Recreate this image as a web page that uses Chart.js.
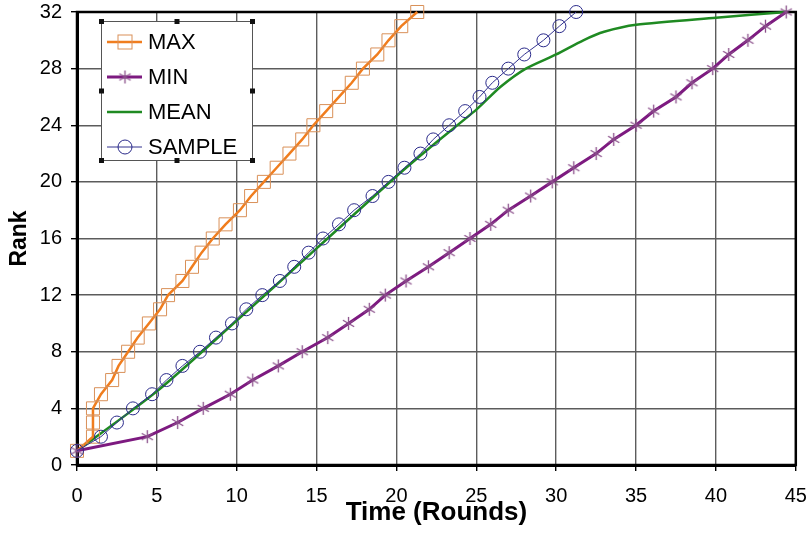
<!DOCTYPE html>
<html>
<head>
<meta charset="utf-8">
<script src="https://cdn.jsdelivr.net/npm/chart.js@4.4.1/dist/chart.umd.min.js"></script>
<style>
  body { margin: 0; background: #fff; }
  #wrap { width: 806px; height: 535px; }
</style>
</head>
<body>
<div id="wrap"><canvas id="myChart" width="806" height="535"></canvas></div>
<script>
// rank 1..32, time (rounds) at which each rank was reached
const ranks = [1, 2, 3, 4, 5, 6, 7, 8, 9, 10, 11, 12, 13, 14, 15, 16,
  17, 18, 19, 20, 21, 22, 23, 24, 25, 26, 27, 28, 29, 30, 31, 32];
const maxTime = [0, 1, 1, 1, 1.5, 2.2, 2.6, 3.2, 3.8, 4.5, 5.2, 5.7, 6.6, 7.2, 7.8, 8.5,
  9.3, 10.2, 10.9, 11.7, 12.5, 13.3, 14.1, 14.8, 15.6, 16.4, 17.2, 17.9, 18.8, 19.5, 20.3, 21.3];
const minTime = [0, 4.4, 6.3, 7.9, 9.6, 11.0, 12.6, 14.1, 15.7, 17.0, 18.3, 19.3, 20.6, 22.0, 23.3, 24.6,
  25.9, 27.0, 28.4, 29.75, 31.1, 32.5, 33.6, 35.0, 36.1, 37.5, 38.5, 39.8, 40.8, 42.0, 43.1, 44.4];
const sampleTime = [0, 1.5, 2.5, 3.5, 4.7, 5.6, 6.6, 7.7, 8.7, 9.7, 10.6, 11.6, 12.7, 13.6, 14.5, 15.4,
  16.4, 17.35, 18.5, 19.5, 20.5, 21.5, 22.3, 23.3, 24.3, 25.2, 26.0, 27.0, 28.0, 29.2, 30.2, 31.25];
// mean curve has no markers
const meanTime = [0, 5, 10, 15, 20, 22.5, 25, 26.5, 28.1, 30, 31.7, 33, 35, 40, 44.4];
const meanRank = [1, 5.2, 10.2, 15.3, 20.4, 22.8, 25.1, 26.7, 28, 29.0, 30, 30.6, 31.1, 31.6, 32];

const xTicks = [0, 5, 10, 15, 20, 25, 30, 35, 40, 45];
const yTicks = [0, 4, 8, 12, 16, 20, 24, 28, 32];

const FONT = "'Liberation Sans', Arial, sans-serif";

function pts(xs, ys) {
  return xs.map((x, i) => ({ x: x, y: ys[i] }));
}

// six armed asterisk used for MIN
function makeStar(size, color) {
  const c = document.createElement('canvas');
  c.width = size; c.height = size;
  const g = c.getContext('2d');
  g.strokeStyle = color;
  g.lineWidth = 1.3;
  const m = size / 2, r = size / 2 - 1;
  g.beginPath();
  [90, 30, 150].forEach(a => {
    const t = a * Math.PI / 180;
    g.moveTo(m - r * Math.cos(t), m + r * Math.sin(t));
    g.lineTo(m + r * Math.cos(t), m - r * Math.sin(t));
  });
  g.stroke();
  return c;
}
const starImg = makeStar(15, '#8a4f8a');

const series = [
  { label: 'MAX', line: '#f07d1e', width: 2.5, style: 'rect', radius: 9.2, mark: '#d99058' },
  { label: 'MIN', line: '#7d1a80', width: 3, style: starImg, radius: 7, mark: '#8a4f8a' },
  { label: 'MEAN', line: '#1f8a22', width: 2.5, style: false, radius: 0, mark: null },
  { label: 'SAMPLE', line: '#33338f', width: 1, style: 'circle', radius: 6.5, mark: '#2a2a8a' }
];

const legendBox = {
  id: 'legendBox',
  afterDatasetsDraw(chart) {
    const c = chart.ctx;
    const x0 = 101, y0 = 21, x1 = 252, y1 = 160;
    c.save();
    c.fillStyle = '#fff';
    c.fillRect(x0, y0, x1 - x0, y1 - y0);
    c.strokeStyle = '#555';
    c.lineWidth = 1;
    c.strokeRect(x0 + 0.5, y0 + 0.5, x1 - x0, y1 - y0);
    c.fillStyle = '#111';
    const mx = (x0 + x1) / 2, my = (y0 + y1) / 2;
    [[x0, y0], [mx, y0], [x1, y0], [x0, my], [x1, my], [x0, y1], [mx, y1], [x1, y1]].forEach(p => {
      c.fillRect(p[0] - 2, p[1] - 2, 5, 5);
    });
    const rows = [42, 77, 112, 147];
    series.forEach((s, i) => {
      const y = rows[i];
      c.strokeStyle = s.line;
      c.lineWidth = s.width;
      c.beginPath();
      c.moveTo(107, y);
      c.lineTo(142, y);
      c.stroke();
      c.lineWidth = 1;
      c.strokeStyle = s.mark;
      if (s.style === 'rect') {
        c.strokeRect(125 - 7, y - 7, 14, 14);
      } else if (s.style === 'circle') {
        c.beginPath();
        c.arc(125, y, 7, 0, Math.PI * 2);
        c.stroke();
      } else if (s.style) {
        c.drawImage(s.style, 125 - s.style.width / 2, y - s.style.height / 2);
      }
      c.fillStyle = '#000';
      c.font = '22px ' + FONT;
      c.textBaseline = 'middle';
      c.textAlign = 'left';
      c.fillText(s.label, 148, y + 1);
    });
    c.restore();
  }
};

const frame = {
  id: 'frame',
  beforeDatasetsDraw(chart) {
    const a = chart.chartArea;
    const c = chart.ctx;
    c.save();
    c.strokeStyle = '#000';
    c.lineWidth = 2.5;
    c.strokeRect(a.left, a.top, a.right - a.left, a.bottom - a.top);
    c.restore();
  }
};

const datasets = [
  { label: 'MAX', data: pts(maxTime, ranks) },
  { label: 'MIN', data: pts(minTime, ranks) },
  { label: 'MEAN', data: pts(meanTime, meanRank) },
  { label: 'SAMPLE', data: pts(sampleTime, ranks) }
].map((d, i) => {
  const s = series[i];
  return Object.assign(d, {
    borderColor: s.line,
    borderWidth: s.width,
    pointStyle: s.style,
    pointRadius: s.radius,
    pointBorderColor: s.mark,
    pointBorderWidth: 1,
    pointBackgroundColor: 'rgba(0,0,0,0)',
    tension: i === 2 ? 0.25 : 0,
    fill: false,
    clip: false,
    order: [2, 1, 3, 0][i]
  });
});

new Chart(document.getElementById('myChart'), {
  type: 'line',
  data: { datasets: datasets },
  plugins: [frame, legendBox],
  options: {
    responsive: false,
    animation: false,
    events: [],
    layout: { padding: { left: 0, right: 10, top: 12, bottom: 0 } },
    plugins: { legend: { display: false }, tooltip: { enabled: false } },
    scales: {
      x: {
        type: 'linear',
        min: 0,
        max: 45,
        afterBuildTicks: s => { s.ticks = xTicks.map(v => ({ value: v })); },
        afterFit: s => { s.height = 70; s.paddingLeft = 0; s.paddingRight = 0; },
        ticks: { color: '#000', font: { family: FONT, size: 20 }, padding: 13, maxRotation: 0, autoSkip: false },
        grid: { color: '#5c5c5c', lineWidth: 1.4, tickLength: 6, tickColor: '#000' },
        border: { display: true, color: '#000', width: 3 },
        title: {
          display: true, text: 'Time (Rounds)', color: '#000',
          font: { family: FONT, size: 26, weight: 'bold' }, padding: { top: 0, bottom: 7 }
        }
      },
      y: {
        min: 0,
        max: 32,
        afterBuildTicks: s => { s.ticks = yTicks.map(v => ({ value: v })); },
        afterFit: s => { s.width = 77; s.paddingTop = 0; s.paddingBottom = 0; },
        ticks: { color: '#000', font: { family: FONT, size: 20 }, padding: 9, autoSkip: false },
        grid: { color: '#5c5c5c', lineWidth: 1.4, tickLength: 6, tickColor: '#000' },
        border: { display: true, color: '#000', width: 3 },
        title: {
          display: true, text: 'Rank', color: '#000',
          font: { family: FONT, size: 23, weight: 'bold' }, padding: { top: 6, bottom: 0 }
        }
      }
    }
  }
});
</script>
</body>
</html>
